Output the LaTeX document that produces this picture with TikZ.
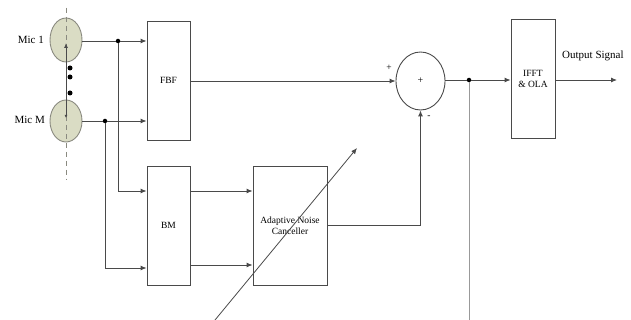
\documentclass[tikz,border=0pt]{standalone}
\usepackage{fontspec}
\setmainfont{Liberation Serif}
\usetikzlibrary{shapes.geometric,arrows.meta,calc}
\definecolor{linec}{HTML}{4A4A4A}
\definecolor{micfill}{HTML}{DADCC4}
\definecolor{micdraw}{HTML}{8A8A80}
\tikzset{
  blockbox/.style={draw=linec,line width=0.9pt,minimum width=43pt,minimum height=119pt,inner sep=0pt,font=\fontsize{9.5}{11}\selectfont,align=center},
  micnode/.style={ellipse,draw=micdraw,fill=micfill,line width=0.9pt,minimum width=32pt,minimum height=44pt,inner sep=0pt},
  conn/.style={draw=linec,line width=0.9pt},
  arr/.style={conn,-{Latex[length=6pt,width=5pt]}},
  junc/.style={circle,fill=black,inner sep=0pt,minimum size=4.5pt},
  lbl/.style={font=\fontsize{11}{12}\selectfont,inner sep=0pt}
}
\begin{document}
\begin{tikzpicture}[x=1pt,y=-1pt]
\useasboundingbox (0,0) rectangle (631,320);
% dashed axis
\coordinate (axt) at (66,8);
\coordinate (axb) at (66,180);
\draw[micdraw,line width=0.8pt,dash pattern=on 5pt off 4pt] (axt) -- (axb);
% mics
\node[micnode] (mic1) at (66,40) {};
\node[micnode,minimum height=42pt] (micM) at (66,121) {};
\draw[micdraw,line width=0.8pt,dash pattern=on 5pt off 4pt] (axt) -- (axb);
\coordinate (ma) at (66,43);
\coordinate (mb) at (66,118);
\draw[conn,{Latex[length=5pt,width=4pt]}-{Latex[length=3pt,width=3pt]}] (ma) -- (mb);
\node[lbl,anchor=east] (l1) at (44,40) {Mic 1};
\node[lbl,anchor=east] (lM) at (45,120) {Mic M};
\node[junc,minimum size=5pt] (d1) at (70,68) {};
\node[junc,minimum size=5pt] (d2) at (70,77) {};
\node[junc,minimum size=5pt] (d3) at (70,93) {};
% blocks
\node[blockbox] (fbf) at (168.5,80.5) {FBF};
\node[blockbox] (bm) at (168.5,225.5) {BM};
\node[blockbox,minimum width=74pt] (anc) at (290,225.5) {Adaptive Noise\\Canceller};
\node[blockbox,minimum width=44pt] (ifft) at (533,78.5) {IFFT\\\& OLA};
\node[ellipse,draw=linec,line width=0.9pt,minimum width=49pt,minimum height=58pt,inner sep=0pt,font=\fontsize{10}{11}\selectfont] (sum) at (420.5,81) {+};
% junctions
\node[junc] (j1) at (118,41) {};
\node[junc] (j2) at (105,121) {};
\node[junc] (j3) at (469,80) {};
% mic to FBF
\draw[arr] (mic1.east |- j1) -- (j1) -- (j1 -| fbf.west);
\draw[arr] (micM.east |- j2) -- (j2) -- (j2 -| fbf.west);
% to BM
\coordinate (b1) at (118,191);
\coordinate (b2) at (105,268);
\draw[arr] (j1) |- (b1 -| bm.west);
\draw[arr] (j2) |- (b2 -| bm.west);
% BM to ANC
\coordinate (c1) at (190,191);
\coordinate (c2) at (190,265);
\draw[arr] (c1 -| bm.east) -- (c1 -| anc.west);
\draw[arr] (c2 -| bm.east) -- (c2 -| anc.west);
% FBF to sum
\draw[arr] (fbf.east |- sum.west) -- (sum.west);
\node[lbl,font=\fontsize{9.5}{10}\selectfont] (plus) at (389,68) {+};
% ANC to sum
\coordinate (e1) at (327,225);
\draw[arr] (e1 -| anc.east) -| (sum.south);
\node[lbl,font=\fontsize{9.5}{10}\selectfont] (minus) at (429,117) {-};
% sum to IFFT
\draw[arr] (sum.east |- j3) -- (j3) -- (j3 -| ifft.west);
\coordinate (vb) at (469,320);
\draw[conn,draw=gray!80] (j3) -- (vb);
% output
\coordinate (out) at (617,80);
\draw[arr] (ifft.east |- out) -- (out);
\node[lbl,anchor=south west] (outl) at (562,61) {Output Signal};
% diagonal adaptive arrow
\coordinate (g1) at (215,320);
\coordinate (g2) at (357,148);
\draw[conn,line width=0.8pt,-{Latex[length=6pt,width=5pt]}] (g1) -- (g2);
\end{tikzpicture}
\end{document}
